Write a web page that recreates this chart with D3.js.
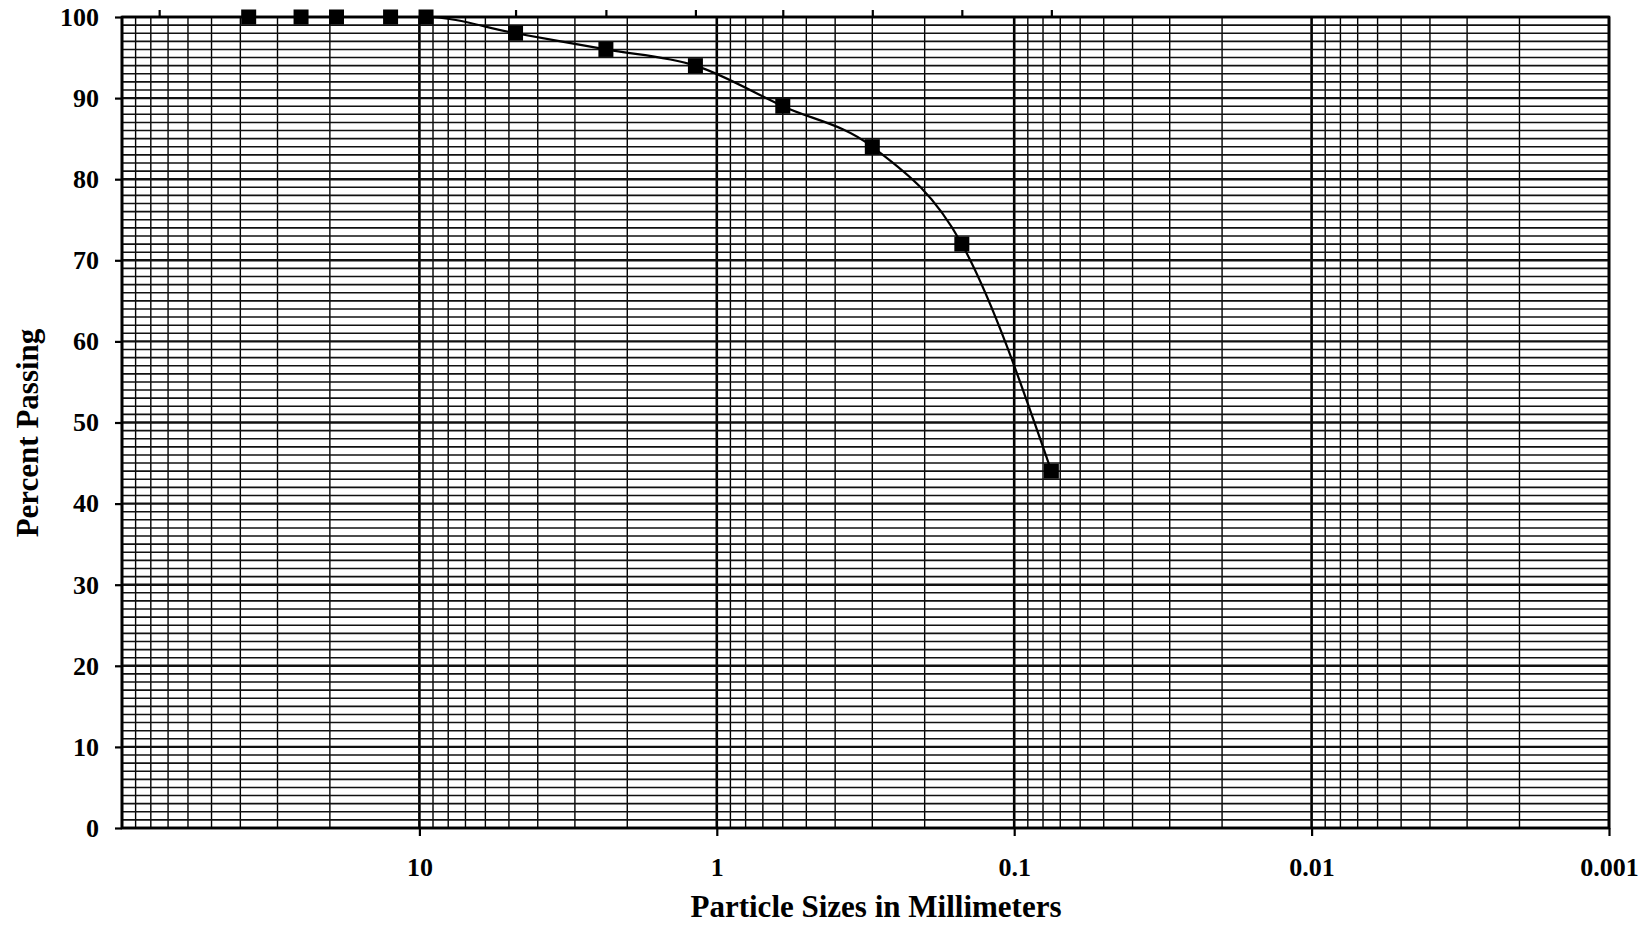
<!DOCTYPE html>
<html>
<head>
<meta charset="utf-8">
<script src="https://cdn.jsdelivr.net/npm/d3@7"></script>
<style>
  body { margin: 0; background: #fff; }
  text { font-family: "Liberation Serif", "Times New Roman", serif; font-weight: bold; fill: #000; }
</style>
</head>
<body>
<div id="chart"></div>
<script>
// sieve openings (mm) and percent passing for each one
const sieveSizes = [37.5, 25, 19, 12.5, 9.5, 4.75, 2.36, 1.18, 0.6, 0.3, 0.15, 0.075];
const percentPassing = [100, 100, 100, 100, 100, 98, 96, 94, 89, 84, 72, 44];

// small marks printed above the top edge of the graph paper
const sieveMarks = [75, 37.5, 25, 19, 12.5, 9.5, 4.75, 2.36, 1.18, 0.6, 0.3, 0.15, 0.075];

const xTickValues = [10, 1, 0.1, 0.01, 0.001];
const xTickLabels = ["10", "1", "0.1", "0.01", "0.001"];
const yTickValues = [0, 10, 20, 30, 40, 50, 60, 70, 80, 90, 100];

const width = 1646, height = 927;
const plot = {left: 122, right: 1609, top: 17, bottom: 828};

const svg = d3.select("#chart").append("svg")
    .attr("width", width)
    .attr("height", height);

// particle size runs from coarse (left) to fine (right)
const x = d3.scaleLog()
    .domain([100, 0.001])
    .range([plot.left, plot.right]);
const y = d3.scaleLinear()
    .domain([0, 100])
    .range([plot.bottom, plot.top]);

const isDecade = d => Math.abs(Math.log10(d) - Math.round(Math.log10(d))) < 1e-9;

// graph paper: vertical log lines
svg.append("g")
  .selectAll("line")
  .data(x.ticks())
  .enter().append("line")
    .attr("x1", d => x(d))
    .attr("x2", d => x(d))
    .attr("y1", plot.top)
    .attr("y2", plot.bottom)
    .attr("stroke", "#000")
    .attr("stroke-width", d => isDecade(d) ? 2.6 : 1.4);

// graph paper: horizontal lines every percent
svg.append("g")
  .selectAll("line")
  .data(y.ticks(100))
  .enter().append("line")
    .attr("x1", plot.left)
    .attr("x2", plot.right)
    .attr("y1", d => y(d))
    .attr("y2", d => y(d))
    .attr("stroke", "#111")
    .attr("stroke-width", d => d % 10 === 0 ? 2.4 : 1.6);

// frame
svg.append("rect")
    .attr("x", plot.left)
    .attr("y", plot.top)
    .attr("width", plot.right - plot.left)
    .attr("height", plot.bottom - plot.top)
    .attr("fill", "none")
    .attr("stroke", "#000")
    .attr("stroke-width", 2.6);

// axes
const xAxis = d3.axisBottom(x)
    .tickValues(xTickValues)
    .tickFormat((d, i) => xTickLabels[i])
    .tickSize(8)
    .tickSizeOuter(0)
    .tickPadding(22);

const yAxis = d3.axisLeft(y)
    .tickValues(yTickValues)
    .tickFormat(d3.format("d"))
    .tickSize(7)
    .tickSizeOuter(0)
    .tickPadding(16);

const topAxis = d3.axisTop(x)
    .tickValues(sieveMarks)
    .tickFormat("")
    .tickSize(7)
    .tickSizeOuter(0);

function styleAxis(g) {
  g.select(".domain").remove();
  g.selectAll(".tick line").attr("stroke", "#000").attr("stroke-width", 2.2);
  g.selectAll(".tick text")
    .attr("fill", "#000")
    .style("font-family", "'Liberation Serif', 'Times New Roman', serif")
    .style("font-weight", "bold")
    .style("font-size", "26px");
}

svg.append("g")
    .attr("transform", "translate(0," + plot.bottom + ")")
    .call(xAxis)
    .call(styleAxis);

svg.append("g")
    .attr("transform", "translate(" + plot.left + ",0)")
    .call(yAxis)
    .call(styleAxis);

svg.append("g")
    .attr("transform", "translate(0," + plot.top + ")")
    .call(topAxis)
    .call(styleAxis);

// gradation curve
const points = sieveSizes.map((s, i) => ({size: s, pct: percentPassing[i]}));

const line = d3.line()
    .x(d => x(d.size))
    .y(d => y(d.pct))
    .curve(d3.curveMonotoneX);

svg.append("path")
    .datum(points)
    .attr("fill", "none")
    .attr("stroke", "#000")
    .attr("stroke-width", 2.2)
    .attr("d", line);

const markerSize = 15;
svg.append("g")
  .selectAll("rect")
  .data(points)
  .enter().append("rect")
    .attr("x", d => x(d.size) - markerSize / 2)
    .attr("y", d => y(d.pct) - markerSize / 2)
    .attr("width", markerSize)
    .attr("height", markerSize)
    .attr("fill", "#000");

// axis titles
svg.append("text")
    .attr("x", 876)
    .attr("y", 917)
    .attr("text-anchor", "middle")
    .style("font-size", "31px")
    .text("Particle Sizes in Millimeters");

svg.append("text")
    .attr("transform", "translate(38,433) rotate(-90)")
    .attr("text-anchor", "middle")
    .style("font-size", "31px")
    .text("Percent Passing");
</script>
</body>
</html>
